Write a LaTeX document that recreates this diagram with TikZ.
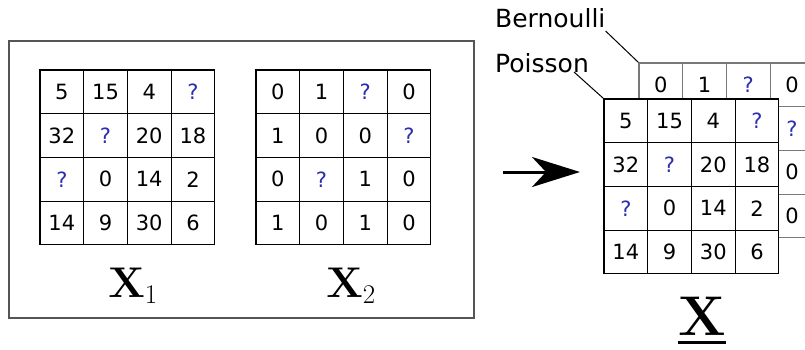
\documentclass[tikz,border=0pt]{standalone}
\usepackage{fix-cm}
\usepackage[no-math]{fontspec}
\setmainfont{DejaVu Sans}
\usepackage{xcolor}
\usepackage{tikz}
\usetikzlibrary{arrows.meta, positioning}

\definecolor{qblue}{RGB}{45,45,175}
\definecolor{framegray}{RGB}{85,85,85}
\definecolor{gridgray}{RGB}{120,120,120}
\newcommand{\qm}{\textcolor{qblue}{?}}
\newcommand{\barbelow}[1]{\vtop{\hbox{#1}\kern6pt\hrule height 2.6pt}}
\DeclareMathSizes{43}{43}{27}{20}

\tikzset{
  cell/.style={draw, fill=white, minimum size=43.7pt, inner sep=0pt,
    line width=1.1pt, font=\fontsize{21}{24}\selectfont},
  bcell/.style={cell, draw=gridgray},
  distname/.style={inner sep=0pt, font=\fontsize{25}{28}\selectfont},
  matname/.style={inner sep=0pt, font=\fontsize{43}{48}\selectfont}
}

\begin{document}
\begin{tikzpicture}[x=1pt, y=-1pt, >=latex]
    \clip (0,0) rectangle (805,349);
    \useasboundingbox (0,0) rectangle (805,349);

    % observed matrices inside the frame
    \node [draw=framegray, line width=2pt, minimum width=465pt, minimum height=277pt] (frame) at (241.5,179.5) {};

    \foreach \v [count=\i] in {5,15,4,\qm,32,\qm,20,18,\qm,0,14,2,14,9,30,6} {
        \pgfmathtruncatemacro{\r}{(\i-1)/4}
        \pgfmathtruncatemacro{\c}{\i-1-4*\r}
        \node [cell] (a-\r-\c) at (40+43.7*\c+21.85, 70+43.7*\r+21.85) {\v};
    }
    \foreach \v [count=\i] in {0,1,\qm,0,1,0,0,\qm,0,\qm,1,0,1,0,1,0} {
        \pgfmathtruncatemacro{\r}{(\i-1)/4}
        \pgfmathtruncatemacro{\c}{\i-1-4*\r}
        \node [cell] (b-\r-\c) at (256+43.7*\c+21.85, 70+43.7*\r+21.85) {\v};
    }

    \node [matname, anchor=base] (x1) at (133,297) {$\mathbf{X}_1$};
    \node [matname, anchor=base] (x2) at (351,297) {$\mathbf{X}_2$};

    % stacked matrix: Bernoulli layer behind, Poisson layer in front
    \foreach \v [count=\i] in {0,1,\qm,0,1,0,0,\qm,0,\qm,1,0,1,0,1,0} {
        \pgfmathtruncatemacro{\r}{(\i-1)/4}
        \pgfmathtruncatemacro{\c}{\i-1-4*\r}
        \node [bcell] (bern-\r-\c) at (639+43.7*\c+21.85, 63+43.7*\r+21.85) {\v};
    }
    \foreach \v [count=\i] in {5,15,4,\qm,32,\qm,20,18,\qm,0,14,2,14,9,30,6} {
        \pgfmathtruncatemacro{\r}{(\i-1)/4}
        \pgfmathtruncatemacro{\c}{\i-1-4*\r}
        \node [cell] (pois-\r-\c) at (604+43.7*\c+21.85, 99+43.7*\r+21.85) {\v};
    }

    \node [distname, anchor=base west] (bernlab) at (495,27) {Bernoulli};
    \node [distname, anchor=base west] (poislab) at (495,72) {Poisson};
    \draw [line width=1pt] ([yshift=-4pt]bernlab.base east) -- (bern-0-0.north west);
    \draw [line width=1pt] ([xshift=-15pt]poislab.base east) -- (pois-0-0.north west);

    \node [inner sep=0pt, font=\fontsize{56}{60}\selectfont, anchor=base] (xall) at (702,335) {\barbelow{$\mathbf{X}$}};

    \coordinate (from) at (503,172);
    \coordinate (to) at (580,172);
    \draw [line width=3pt, -{Stealth[length=48pt, width=30pt, inset=14pt]}] (from) -- (to);
\end{tikzpicture}
\end{document}
